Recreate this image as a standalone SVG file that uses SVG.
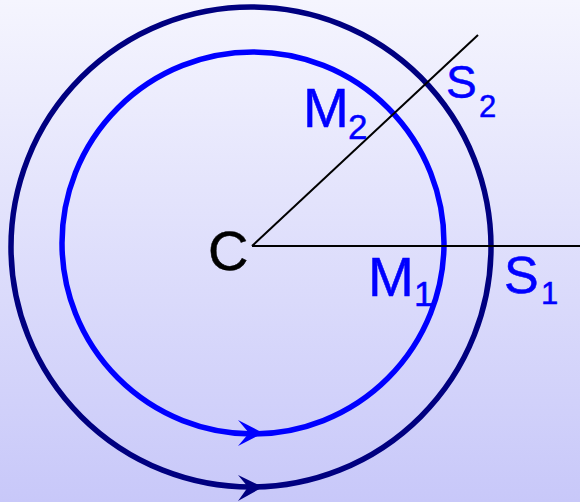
<svg xmlns="http://www.w3.org/2000/svg" width="580" height="502" viewBox="0 0 580 502">
<defs>
<linearGradient id="bg" x1="0" y1="0" x2="0" y2="1">
<stop offset="0" stop-color="#f5f5fe"/>
<stop offset="1" stop-color="#c8c8f9"/>
</linearGradient>
<style>
.lbl{font-family:"Liberation Sans",Arial,sans-serif;fill:#0000ff;stroke:#0000ff;stroke-width:0.5}
.ray{stroke:#000;stroke-width:2;fill:none}
</style>
</defs>
<rect width="580" height="502" fill="url(#bg)"/>
<g id="outer-circle">
<circle cx="251" cy="247" r="240" fill="none" stroke="#000080" stroke-width="5.5"/>
<path d="M263,487 L238,475 L248,487 L238,501 Z" fill="#000080"/>
</g>
<g id="inner-circle">
<circle cx="253" cy="243" r="191" fill="none" stroke="#0000ff" stroke-width="5.5"/>
<path d="M263,433 L238,420 L249,433 L238,446 Z" fill="#0000ff"/>
</g>
<g id="connectors">
<line class="ray" x1="252" y1="246" x2="580" y2="246"/>
<line class="ray" x1="252" y1="246" x2="478" y2="35"/>
</g>
<g id="C">
<text x="208" y="270" font-family="Liberation Sans, Arial, sans-serif" font-size="56" fill="#000" stroke="#000" stroke-width="0.5">C</text>
</g>
<g id="M1">
<text class="lbl" x="368" y="296" font-size="55">M</text>
<text class="lbl" x="414" y="306" font-size="35">1</text>
</g>
<g id="M2">
<text class="lbl" x="303" y="127" font-size="55">M</text>
<text class="lbl" x="348" y="139" font-size="35">2</text>
</g>
<g id="S1">
<text class="lbl" x="504" y="293" font-size="52">S</text>
<text class="lbl" x="541" y="304" font-size="31">1</text>
</g>
<g id="S2">
<text class="lbl" x="446" y="98" font-size="46">S</text>
<text class="lbl" x="479" y="117" font-size="31">2</text>
</g>
</svg>
